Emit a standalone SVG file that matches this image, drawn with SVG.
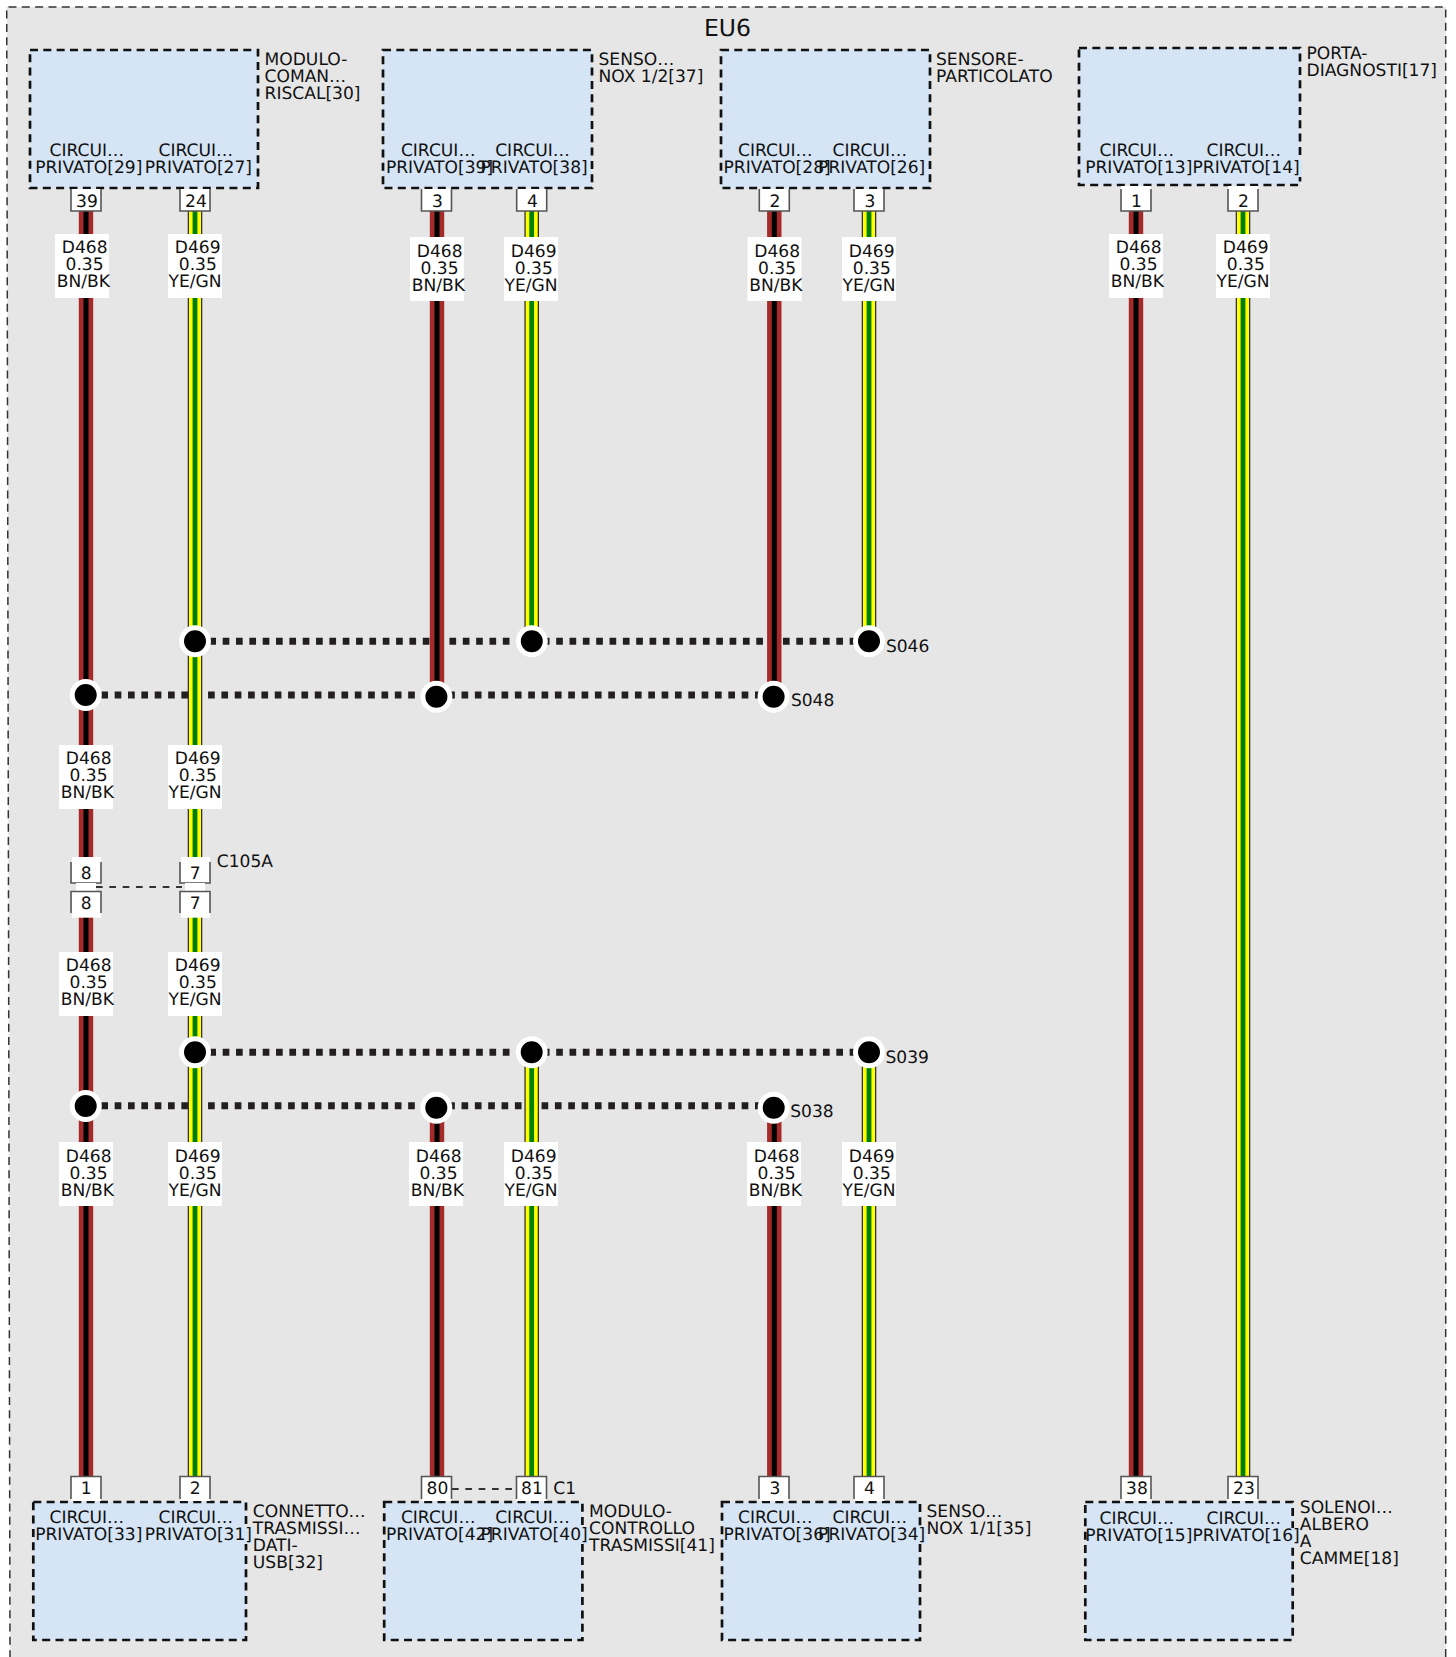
<svg xmlns="http://www.w3.org/2000/svg" width="1456" height="1657" viewBox="0 0 1456 1657">
<defs>
<style>
text{font-family:"DejaVu Sans",sans-serif;font-size:17.1px;fill:#111;text-rendering:geometricPrecision;transform:translate(-0.5px,0)}
text.m{transform:none}
.box{fill:#d5e5f5;stroke:#111;stroke-width:2.7;stroke-dasharray:8 5.33}
.patch{fill:#d5e5f5}
.pin{fill:#fff;stroke:none}
.pinl{fill:none;stroke:#555;stroke-width:1.6}
.lab{fill:#fff}
.br{stroke:#a52a2a;stroke-width:14.4;fill:none}
.bk{stroke:#000;stroke-width:5;fill:none}
.ol{stroke:#333;stroke-width:14.6;fill:none}
.ye{stroke:#ff0;stroke-width:12;fill:none}
.gn{stroke:#008000;stroke-width:4.8;fill:none}
.dot{stroke:#231f20;stroke-width:7;stroke-dasharray:6.67 6.67;fill:none}
.dash{stroke:#333;stroke-width:2;stroke-dasharray:6.67 6.67;fill:none}
.j{fill:#000;stroke:#fff;stroke-width:5}
.m{text-anchor:middle}
</style>
</defs>
<rect width="1456" height="1657" fill="#fff"/>
<path id="frame" d="M1445.7 1657V7H6.7L10 1657" fill="#e6e6e6" stroke="#333" stroke-width="1.5" stroke-dasharray="8 5.33"/>
<text x="727.5" y="36" class="m" style="font-size:23.5px">EU6</text>

<g id="connectors">
<path class="dot" d="M196 641.3H869M88 695H773M196 1052.3H869M88 1105.8H773"/>
<path class="dash" d="M452 1489H516"/>
<g id="wires-brown">
<path class="br" d="M86 211V883M86 917V1476M437 211V696M437 1107V1476M774.3 211V696M774.3 1107V1476M1136 211V1476"/>
<path class="bk" d="M86 211V883M86 917V1476M437 211V696M437 1107V1476M774.3 211V696M774.3 1107V1476M1136 211V1476"/>
</g>
<g id="wires-yellow">
<path class="ol" d="M195 211V883M195 917V1476M531.7 211V641M531.7 1052V1476M869 211V641M869 1052V1476M1243 211V1476"/>
<path class="ye" d="M195 211V883M195 917V1476M531.7 211V641M531.7 1052V1476M869 211V641M869 1052V1476M1243 211V1476"/>
<path class="gn" d="M195 211V883M195 917V1476M531.7 211V641M531.7 1052V1476M869 211V641M869 1052V1476M1243 211V1476"/>
</g>
</g>

<g id="node-modulo-comando">
<rect class="box" x="30" y="50" width="228" height="138"/>
<text x="50" y="156">CIRCUI…</text><text x="35.7" y="173">PRIVATO[29]</text>
<text x="159" y="156">CIRCUI…</text><text x="145.3" y="173">PRIVATO[27]</text>
<text x="265" y="64.5">MODULO-</text><text x="265" y="81.5">COMAN…</text><text x="265" y="98.5">RISCAL[30]</text>
</g>
<g id="node-nox-12">
<rect class="box" x="383" y="50" width="209" height="138"/>
<text x="401.4" y="156">CIRCUI…</text><text x="386.4" y="173">PRIVATO[39]</text>
<text x="495.7" y="156">CIRCUI…</text><text x="481" y="173">PRIVATO[38]</text>
<text x="599" y="64.5">SENSO…</text><text x="599" y="81.5">NOX 1/2[37]</text>
</g>
<g id="node-particolato">
<rect class="box" x="721" y="50" width="209" height="138"/>
<text x="738.6" y="156">CIRCUI…</text><text x="724" y="173">PRIVATO[28]</text>
<text x="833" y="156">CIRCUI…</text><text x="818.6" y="173">PRIVATO[26]</text>
<text x="936.5" y="64.5">SENSORE-</text><text x="936.5" y="81.5">PARTICOLATO</text>
</g>
<g id="node-diagnosi">
<rect class="box" x="1079" y="48" width="221" height="137"/>
<rect class="patch" x="1296" y="160" width="6" height="17"/>
<text x="1100" y="156">CIRCUI…</text><text x="1085.7" y="173">PRIVATO[13]</text>
<text x="1207" y="156">CIRCUI…</text><text x="1193" y="173">PRIVATO[14]</text>
<text x="1307" y="58.7">PORTA-</text><text x="1307" y="75.5">DIAGNOSTI[17]</text>
</g>
<g id="node-usb">
<rect class="box" x="33.3" y="1502" width="212.7" height="138"/>
<rect class="patch" x="243" y="1527" width="10" height="17"/>
<text x="50" y="1523.3">CIRCUI…</text><text x="35.7" y="1540">PRIVATO[33]</text>
<text x="159" y="1523.3">CIRCUI…</text><text x="145.3" y="1540">PRIVATO[31]</text>
<text x="253.3" y="1517.3">CONNETTO…</text><text x="253.3" y="1534.3">TRASMISSI…</text><text x="253.3" y="1551">DATI-</text><text x="253.3" y="1568">USB[32]</text>
</g>
<g id="node-trasmissione">
<rect class="box" x="384.2" y="1502" width="198.2" height="138"/>
<rect class="patch" x="579" y="1527" width="10" height="17"/>
<text x="401.4" y="1523.3">CIRCUI…</text><text x="386.4" y="1540">PRIVATO[42]</text>
<text x="495.7" y="1523.3">CIRCUI…</text><text x="481" y="1540">PRIVATO[40]</text>
<text x="589.6" y="1517.3">MODULO-</text><text x="589.6" y="1534.3">CONTROLLO</text><text x="589.6" y="1551">TRASMISSI[41]</text>
</g>
<g id="node-nox-11">
<rect class="box" x="722" y="1502" width="198" height="138"/>
<rect class="patch" x="917" y="1527" width="10" height="17"/>
<text x="738.6" y="1523.3">CIRCUI…</text><text x="724" y="1540">PRIVATO[36]</text>
<text x="833" y="1523.3">CIRCUI…</text><text x="818.6" y="1540">PRIVATO[34]</text>
<text x="927" y="1517.3">SENSO…</text><text x="927" y="1534.3">NOX 1/1[35]</text>
</g>
<g id="node-solenoide">
<rect class="box" x="1085.3" y="1502" width="207.4" height="138"/>
<rect class="patch" x="1289" y="1528" width="10" height="17"/>
<text x="1100" y="1524">CIRCUI…</text><text x="1085.7" y="1541">PRIVATO[15]</text>
<text x="1207" y="1524">CIRCUI…</text><text x="1193" y="1541">PRIVATO[16]</text>
<text x="1300.3" y="1513.3">SOLENOI…</text><text x="1300.3" y="1530">ALBERO</text><text x="1300.3" y="1547">A</text><text x="1300.3" y="1564">CAMME[18]</text>
</g>

<g id="pins">
<g id="pins-top">
<rect class="pin" x="71" y="189" width="30" height="22"/><path class="pinl" d="M71 189V211H101V189"/><text x="87" y="206.7" class="m">39</text>
<rect class="pin" x="180" y="189" width="30" height="22"/><path class="pinl" d="M180 189V211H210V189"/><text x="196" y="206.7" class="m">24</text>
<rect class="pin" x="421.5" y="189" width="30" height="22"/><path class="pinl" d="M421.5 189V211H451.5V189"/><text x="437.5" y="206.7" class="m">3</text>
<rect class="pin" x="516.7" y="189" width="30" height="22"/><path class="pinl" d="M516.7 189V211H546.7V189"/><text x="532.5" y="206.7" class="m">4</text>
<rect class="pin" x="759.3" y="189" width="30" height="22"/><path class="pinl" d="M759.3 189V211H789.3V189"/><text x="775" y="206.7" class="m">2</text>
<rect class="pin" x="854" y="189" width="30" height="22"/><path class="pinl" d="M854 189V211H884V189"/><text x="870" y="206.7" class="m">3</text>
<rect class="pin" x="1121" y="186" width="30" height="25"/><path class="pinl" d="M1121 189V211H1151V189"/><text x="1136.5" y="206.7" class="m">1</text>
<rect class="pin" x="1228" y="186" width="30" height="25"/><path class="pinl" d="M1228 189V211H1258V189"/><text x="1243.5" y="206.7" class="m">2</text>
</g>
<g id="pins-c105a">
<rect class="pin" x="72" y="857" width="29" height="26"/><path class="pinl" d="M71 862V883H101V862"/><text x="86.3" y="879.3" class="m">8</text>
<rect class="pin" x="181" y="857" width="29" height="26"/><path class="pinl" d="M180 862V883H210V862"/><text x="195.3" y="879.3" class="m">7</text>
<rect x="76" y="883" width="20" height="8" class="pin"/><rect x="185" y="883" width="20" height="8" class="pin"/>
<rect class="pin" x="72" y="891" width="29" height="26.7"/><path class="pinl" d="M71 913V891.5H101V913"/><text x="86.3" y="908.7" class="m">8</text>
<rect class="pin" x="181" y="891" width="29" height="26.7"/><path class="pinl" d="M180 913V891.5H210V913"/><text x="195.3" y="908.7" class="m">7</text>
<path class="dash" d="M96 887H182"/>
</g>
<g id="pins-bottom">
<rect class="pin" x="71" y="1476" width="30" height="25"/><path class="pinl" d="M71 1499V1476.5H101V1499"/><text x="86.3" y="1494" class="m">1</text>
<rect class="pin" x="180" y="1476" width="30" height="25"/><path class="pinl" d="M180 1499V1476.5H210V1499"/><text x="195.3" y="1494" class="m">2</text>
<rect class="pin" x="421.5" y="1476" width="30" height="25"/><path class="pinl" d="M421.5 1499V1476.5H451.5V1499"/><text x="437.5" y="1494" class="m">80</text>
<rect class="pin" x="516.5" y="1476" width="30" height="25"/><path class="pinl" d="M516.5 1499V1476.5H546.5V1499"/><text x="532" y="1494" class="m">81</text>
<rect class="pin" x="759" y="1476" width="30" height="25"/><path class="pinl" d="M759 1499V1476.5H789V1499"/><text x="775" y="1494" class="m">3</text>
<rect class="pin" x="854" y="1476" width="30" height="25"/><path class="pinl" d="M854 1499V1476.5H884V1499"/><text x="869.5" y="1494" class="m">4</text>
<rect class="pin" x="1121" y="1476" width="30" height="25"/><path class="pinl" d="M1121 1499V1476.5H1151V1499"/><text x="1137" y="1494" class="m">38</text>
<rect class="pin" x="1228" y="1476" width="30" height="25"/><path class="pinl" d="M1228 1499V1476.5H1258V1499"/><text x="1244" y="1494" class="m">23</text>
</g>
</g>
<text x="553.8" y="1494">C1</text>
<text x="217.3" y="866.7">C105A</text>

<g id="wire-labels">
<g><rect class="lab" x="55" y="234" width="54" height="64"/><text x="62.3" y="253">D468</text><text x="66" y="270">0.35</text><text x="57.3" y="286.7">BN/BK</text></g>
<g><rect class="lab" x="168" y="234" width="54" height="64"/><text x="175.3" y="253">D469</text><text x="179.3" y="270">0.35</text><text x="169" y="286.7">YE/GN</text></g>
<g><rect class="lab" x="410" y="237" width="54" height="64"/><text x="417.3" y="256.7">D468</text><text x="421" y="273.7">0.35</text><text x="412.3" y="290.5">BN/BK</text></g>
<g><rect class="lab" x="504" y="237" width="54" height="64"/><text x="511.3" y="256.7">D469</text><text x="515.3" y="273.7">0.35</text><text x="505" y="290.5">YE/GN</text></g>
<g><rect class="lab" x="747.5" y="237" width="54" height="64"/><text x="754.8" y="256.7">D468</text><text x="758.5" y="273.7">0.35</text><text x="749.8" y="290.5">BN/BK</text></g>
<g><rect class="lab" x="842" y="237" width="54" height="64"/><text x="849.3" y="256.7">D469</text><text x="853.3" y="273.7">0.35</text><text x="843" y="290.5">YE/GN</text></g>
<g><rect class="lab" x="1109" y="234" width="54" height="64"/><text x="1116.3" y="253">D468</text><text x="1120" y="270">0.35</text><text x="1111.3" y="286.7">BN/BK</text></g>
<g><rect class="lab" x="1216" y="234" width="54" height="64"/><text x="1223.3" y="253">D469</text><text x="1227.3" y="270">0.35</text><text x="1217" y="286.7">YE/GN</text></g>
<g><rect class="lab" x="59" y="745" width="54" height="64"/><text x="66.3" y="764.3">D468</text><text x="70" y="781.3">0.35</text><text x="61.3" y="798.3">BN/BK</text></g>
<g><rect class="lab" x="168" y="745" width="54" height="64"/><text x="175.3" y="764.3">D469</text><text x="179.3" y="781.3">0.35</text><text x="169" y="798.3">YE/GN</text></g>
<g><rect class="lab" x="59" y="952" width="54" height="64"/><text x="66.3" y="970.7">D468</text><text x="70" y="987.7">0.35</text><text x="61.3" y="1004.7">BN/BK</text></g>
<g><rect class="lab" x="168" y="952" width="54" height="64"/><text x="175.3" y="970.7">D469</text><text x="179.3" y="987.7">0.35</text><text x="169" y="1004.7">YE/GN</text></g>
<g><rect class="lab" x="59" y="1142" width="54" height="64"/><text x="66.3" y="1161.7">D468</text><text x="70" y="1178.7">0.35</text><text x="61.3" y="1195.7">BN/BK</text></g>
<g><rect class="lab" x="168" y="1142" width="54" height="64"/><text x="175.3" y="1161.7">D469</text><text x="179.3" y="1178.7">0.35</text><text x="169" y="1195.7">YE/GN</text></g>
<g><rect class="lab" x="409" y="1142" width="54" height="64"/><text x="416.3" y="1161.7">D468</text><text x="420" y="1178.7">0.35</text><text x="411.3" y="1195.7">BN/BK</text></g>
<g><rect class="lab" x="504" y="1142" width="54" height="64"/><text x="511.3" y="1161.7">D469</text><text x="515.3" y="1178.7">0.35</text><text x="505" y="1195.7">YE/GN</text></g>
<g><rect class="lab" x="747" y="1142" width="54" height="64"/><text x="754.3" y="1161.7">D468</text><text x="758" y="1178.7">0.35</text><text x="749.3" y="1195.7">BN/BK</text></g>
<g><rect class="lab" x="842" y="1142" width="54" height="64"/><text x="849.3" y="1161.7">D469</text><text x="853.3" y="1178.7">0.35</text><text x="843" y="1195.7">YE/GN</text></g>
</g>

<g id="junction-S046"><circle class="j" cx="195" cy="641.3" r="13.5"/><circle class="j" cx="531.8" cy="641.3" r="13.5"/><circle class="j" cx="869" cy="641.3" r="13.5"/><text x="886.4" y="652">S046</text></g>
<g id="junction-S048"><circle class="j" cx="85.7" cy="695" r="13.5"/><circle class="j" cx="436.4" cy="696.7" r="13.5"/><circle class="j" cx="773.6" cy="696.7" r="13.5"/><text x="791.4" y="705.7">S048</text></g>
<g id="junction-S039"><circle class="j" cx="195" cy="1052.3" r="13.5"/><circle class="j" cx="531.7" cy="1052.3" r="13.5"/><circle class="j" cx="869" cy="1052.3" r="13.5"/><text x="886" y="1063.3">S039</text></g>
<g id="junction-S038"><circle class="j" cx="85.7" cy="1106" r="13.5"/><circle class="j" cx="436.3" cy="1107.7" r="13.5"/><circle class="j" cx="773.7" cy="1107.7" r="13.5"/><text x="790.7" y="1117.3">S038</text></g>
</svg>
